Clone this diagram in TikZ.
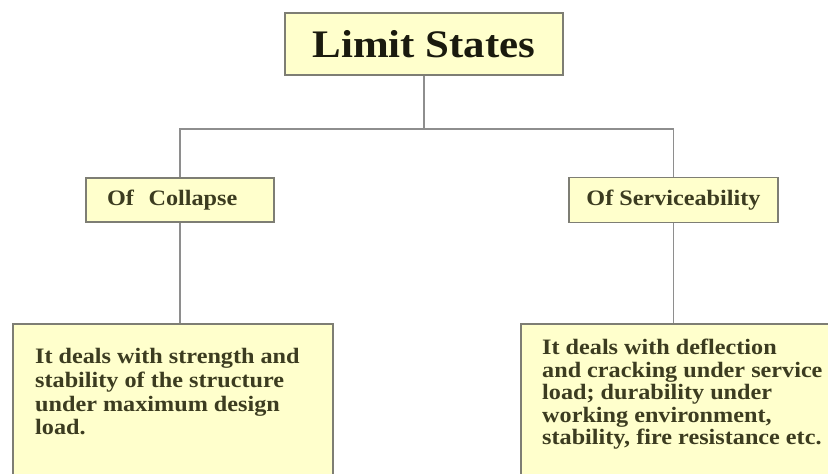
\documentclass[tikz,border=0pt]{standalone}
\usepackage{fontspec}
\setmainfont[FakeStretch=1.1]{Liberation Serif}
\usepackage{xcolor}
\usepackage{tikz}
\usetikzlibrary{
  positioning,
  calc
}
\definecolor{boxfill}{HTML}{FFFFCC}
\definecolor{boxline}{HTML}{7E7E74}
\definecolor{linkgray}{HTML}{8E8E8E}
\definecolor{titleink}{HTML}{1A1A0E}
\definecolor{bodyink}{HTML}{3C3C20}

\begin{document}
\begin{tikzpicture}[x=1pt,y=1pt,
  statebox/.style={draw=boxline, line width=1.6pt, fill=boxfill, inner sep=0pt},
  tiertext/.style={text=bodyink, font=\fontsize{22}{22.5}\selectfont\bfseries},
  bodytext/.style={text=bodyink, font=\fontsize{22}{22.5}\selectfont\bfseries,
    inner sep=0pt, align=left},
  link/.style={draw=linkgray, line width=1.8pt}]
  % 画面の大きさ
  \useasboundingbox (0,0) rectangle (828,474);
  \clip (0,0) rectangle (828,474);

  % 一番上の箱
  \node[statebox, minimum width=278, minimum height=62, text=titleink,
    font=\fontsize{39}{40}\selectfont\bfseries] (limit) at (424,430) {Limit States};

  % 二つの種類
  \node[statebox, tiertext, minimum height=44, text width=146, inner xsep=21,
    align=left] (collapse) at (180,274) {Of\ \ Collapse};
  \node[statebox, tiertext, minimum width=209, minimum height=45]
    (service) at (673.5,274) {Of Serviceability};

  % 下の説明の箱(下端は切れている)
  \node[statebox, anchor=north west, minimum width=320, minimum height=200]
    (collapsebox) at (12,151) {};
  \node[statebox, anchor=north west, minimum width=330, minimum height=200]
    (servicebox) at (520,151) {};
  \node[bodytext, font=\fontsize{22}{23.8}\selectfont\bfseries,
    below right=25 and 23 of collapsebox.north west] (collapsetext)
    {It deals with strength and\\stability of the structure\\under maximum design\\load.};
  \node[bodytext, below right=16 and 22 of servicebox.north west] (servicetext)
    {It deals with deflection\\and cracking under service\\load; durability under\\working environment,\\stability, fire resistance etc.};

  % 線
  \draw[link] (limit.south) -- ++(0,-53) coordinate (fork);
  \draw[link] (collapse.north) |- (fork) -| (service.north);
  \draw[link] (collapse.south) -- (collapse.south |- collapsebox.north);
  \draw[link] (service.south) -- (service.south |- servicebox.north);
\end{tikzpicture}
\end{document}
